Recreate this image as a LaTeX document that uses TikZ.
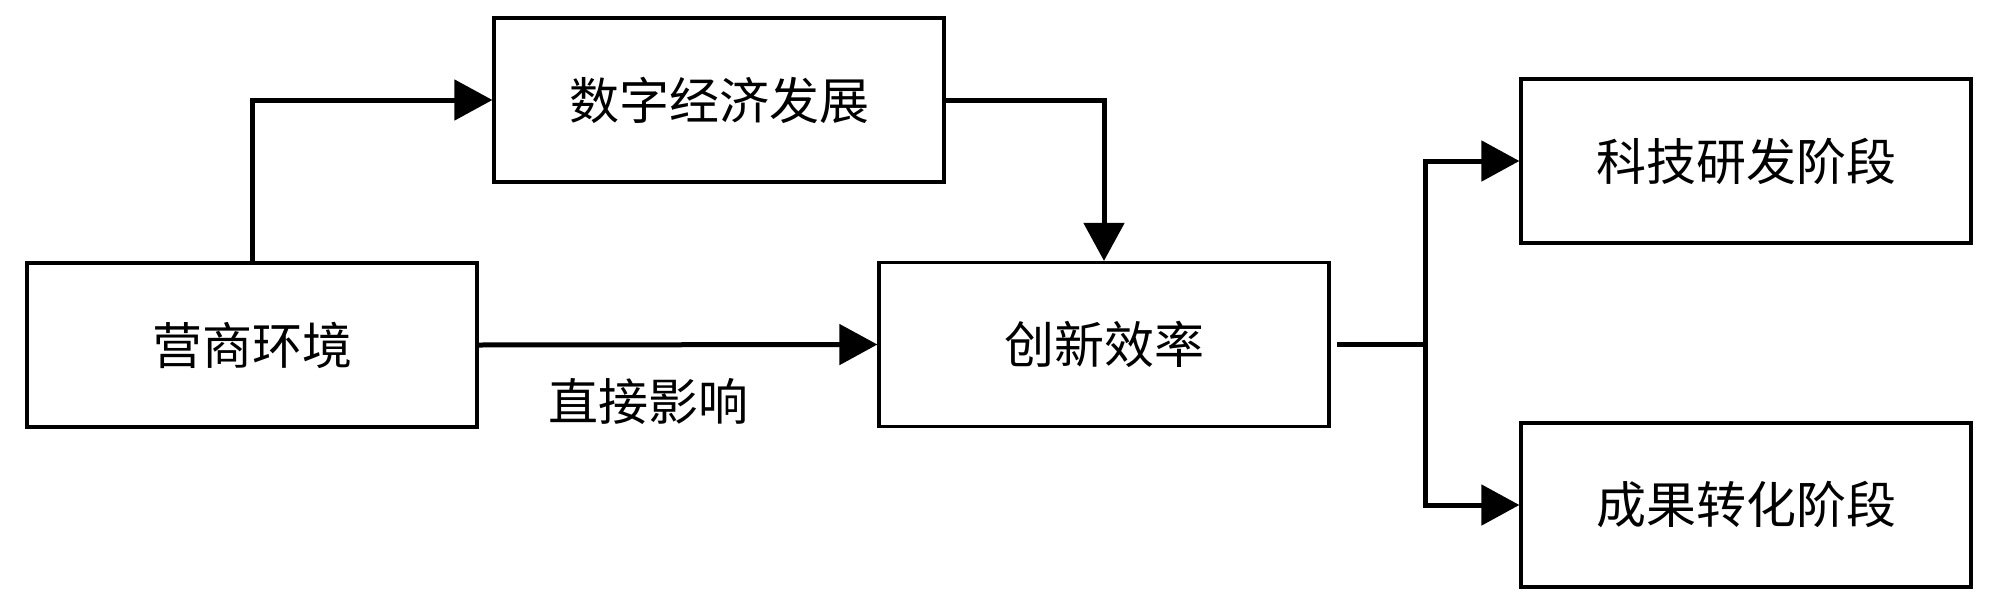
\documentclass[tikz,border=0pt]{standalone}
\usepackage{fontspec}
\newfontfamily\cjk{Noto Sans CJK SC}
\usetikzlibrary{arrows.meta}
\begin{document}
\begin{tikzpicture}[x=0.5pt,y=-0.5pt,
  box/.style={draw, line width=1.6pt, minimum width=225pt, minimum height=82pt, inner sep=0pt, font=\cjk\fontsize{25}{30}\selectfont},
  conn/.style={line width=2.5pt},
  arr/.style={conn, -{Triangle[length=19pt,width=20pt]}},
  lbl/.style={font=\cjk\fontsize{25}{30}\selectfont}]
\useasboundingbox (0,0) rectangle (1999,611);
\node[box] (ys) at (252,345) {营商环境};
\node[box] (sz) at (719,100) {数字经济发展};
\node[box] (cx) at (1104,344.5) {创新效率};
\node[box] (kj) at (1746,161) {科技研发阶段};
\node[box] (cg) at (1746,505) {成果转化阶段};
\coordinate (j) at (1425,344.5);
\draw[arr] (ys.north) |- (sz.west);
\draw[arr] (sz.east) -| (cx.north);
\draw[arr] (ys.east) -- (cx.west);
\node[lbl] (zj) at (648,401) {直接影响};
\draw[conn] ([xshift=3pt]cx.east) -- (j);
\draw[arr] (j) |- (kj.west);
\draw[arr] (j) |- (cg.west);
\end{tikzpicture}
\end{document}
